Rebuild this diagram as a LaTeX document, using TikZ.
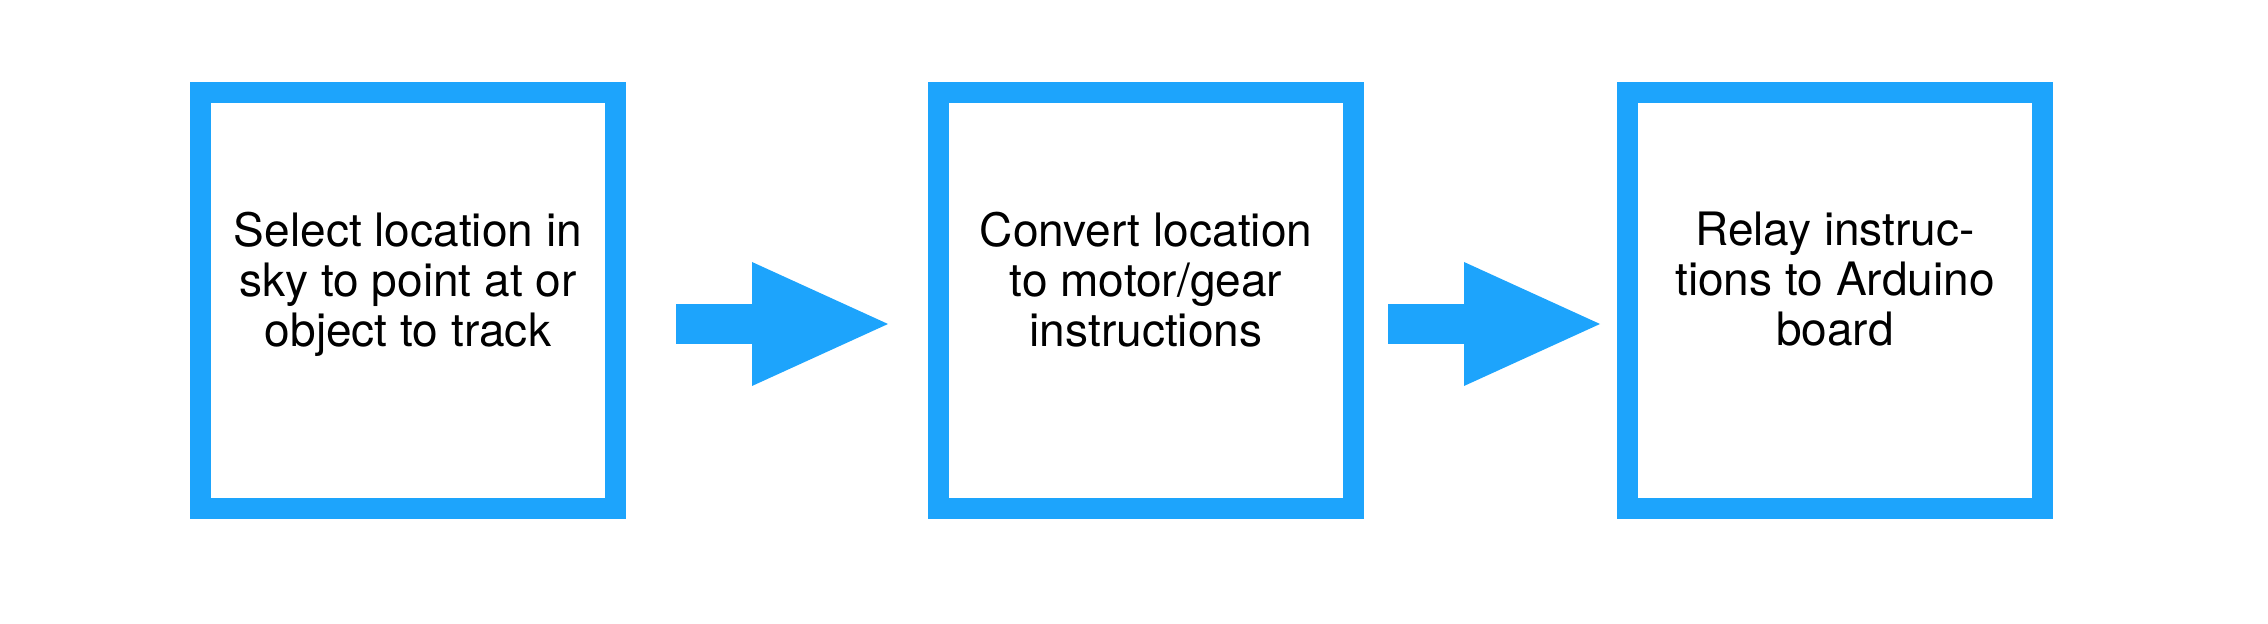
\documentclass[tikz,border=0pt]{standalone}
\usepackage{fontspec}
\setmainfont{TeX Gyre Heros}
\usetikzlibrary{positioning,arrows.meta}
\definecolor{skyblue}{RGB}{29,164,252}
\begin{document}
\begin{tikzpicture}[
        box/.style={draw=skyblue, line width=0.42cm, outer sep=0pt, minimum width=8.3cm, minimum height=8.32cm},
        txt/.style={align=center, inner sep=0pt, font=\fontsize{26.2}{28.45}\selectfont},
        flow/.style={draw=skyblue, line width=0.8cm, -{Triangle[length=2.72cm, width=2.48cm, line width'=0pt]}},
        >=latex
    ]
        \useasboundingbox (0,0) rectangle (45.36,12.48);
        
        % Three blocks of the chain
        \node[box] (b1) at (8.16,6.47) {};
        \node[box] (b2) at (22.92,6.47) {};
        \node[box] (b3) at (36.70,6.47) {};
        
        % Texts inside the blocks
        \node[txt, below=2.39cm of b1.north] (t1) {Select location in\\sky to point at or\\object to track};
        \node[txt, below=2.39cm of b2.north] (t2) {Convert location\\to motor/gear\\instructions};
        \node[txt, below=2.39cm of b3.north] (t3) {Relay instruc-\\tions to Arduino\\board};
        
        % Block arrows between the blocks
        \draw[flow, shorten <=1.21cm, shorten >=1.01cm] ([yshift=-0.47cm]b1.east) -- ([yshift=-0.47cm]b2.west);
        \draw[flow, shorten <=0.69cm, shorten >=0.55cm] ([yshift=-0.47cm]b2.east) -- ([yshift=-0.47cm]b3.west);
    \end{tikzpicture}
\end{document}
